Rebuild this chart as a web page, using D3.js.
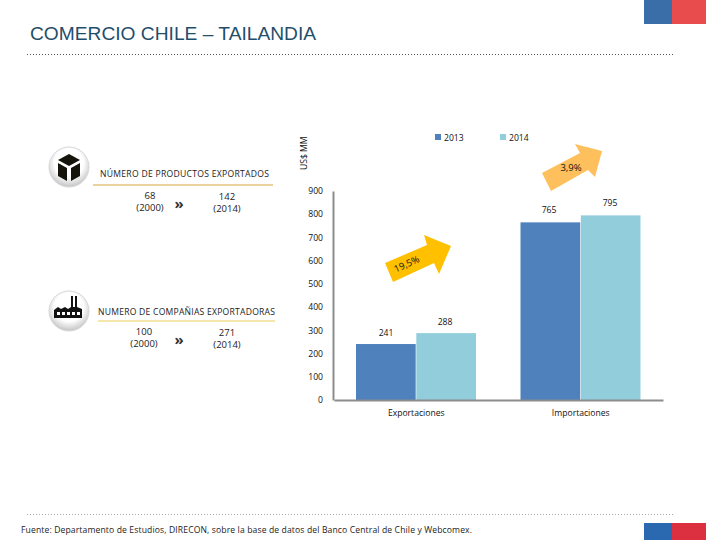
<!DOCTYPE html>
<html><head><meta charset="utf-8">
<script src="https://cdn.jsdelivr.net/npm/d3@7"></script>
<style>html,body{margin:0;padding:0;background:#fff}svg{display:block}text{font-family:"Open Sans","Noto Sans",sans-serif}</style>
</head><body><svg id="c" width="720" height="540"></svg>
<script>
const categories=["Exportaciones","Importaciones"];
const years=["2013","2014"];
const values2013=[241,765];
const values2014=[288,795];
const yTicks=[0,100,200,300,400,500,600,700,800,900];
const colors=["#4f81bd","#92cddc"];
const titleText="COMERCIO CHILE – TAILANDIA";
const sourceText="Fuente: Departamento de Estudios, DIRECON, sobre la base de datos del Banco Central de Chile y Webcomex.";

const svg=d3.select("#c");
const defs=svg.append("defs");
const grad=defs.append("radialGradient").attr("id","disc").attr("cx","50%").attr("cy","40%").attr("r","60%");
grad.append("stop").attr("offset","60%").attr("stop-color","#ffffff");
grad.append("stop").attr("offset","100%").attr("stop-color","#c4c4c4");

// flag blocks
function flag(x,y,w1,w2,h,c1,c2){
  svg.append("rect").attr("x",x).attr("y",y).attr("width",w1).attr("height",h).attr("fill",c1);
  svg.append("rect").attr("x",x+w1).attr("y",y).attr("width",w2).attr("height",h).attr("fill",c2);
}
flag(644,0,28,34,24,"#3a6ea8","#e84c4c");
flag(644,523,28,34,17,"#2a69b0","#dc3040");

// title and dotted rules
svg.append("text").attr("x",30).attr("y",40).attr("font-size",19.2).attr("fill","#1f4e6b")
  .style("font-family","'Liberation Sans',Arial,sans-serif").text(titleText);
[[54,"#555"],[514,"#aaa"]].forEach(([y,c])=>svg.append("line").attr("x1",27).attr("x2",675).attr("y1",y+.5).attr("y2",y+.5)
  .attr("stroke",c).attr("stroke-width",1).attr("stroke-dasharray","1 2"));
svg.append("text").attr("x",21).attr("y",533).attr("font-size",8.6).attr("fill","#222")
  .attr("textLength",451).attr("lengthAdjust","spacing").text(sourceText);

// chart
const x0=d3.scaleBand().domain(categories).range([334,663]).paddingInner(0).paddingOuter(0);
const x1=d3.scaleBand().domain(years).range([22,142]).paddingInner(0.01);
const y=d3.scaleLinear().domain([0,900]).range([400,191]);

const series=years.map((yr,i)=>({yr,color:colors[i],values:i?values2014:values2013}));
series.forEach(s=>{
  svg.append("g").selectAll("rect").data(categories).join("rect")
    .attr("x",c=>x0(c)+x1(s.yr)).attr("width",x1.bandwidth())
    .attr("y",(c,i)=>y(s.values[i])).attr("height",(c,i)=>y(0)-y(s.values[i]))
    .attr("fill",s.color);
});
// axes
const yAxis=d3.axisLeft(y).tickValues(yTicks).tickSize(0).tickPadding(10).tickFormat(d3.format("d"));
const gy=svg.append("g").attr("transform","translate(333,0)").call(yAxis);
gy.select(".domain").attr("stroke","#8c8c8c").attr("stroke-width",2);
gy.selectAll("text").attr("font-size",8.6).attr("fill","#111");
const xAxis=d3.axisBottom(x0).tickSize(0).tickPadding(10);
const gx=svg.append("g").attr("transform","translate(0,400)").call(xAxis);
gx.select(".domain").attr("stroke","#8c8c8c").attr("stroke-width",2);
gx.selectAll("text").attr("font-size",8.6).attr("fill","#111");

// data labels
const dl=[{x:386,i:0,s:0},{x:445,i:0,s:1},{x:549,i:1,s:0},{x:610,i:1,s:1}];
const dy=[8,8,9,9];
dl.forEach((d,k)=>svg.append("text").attr("x",d.x).attr("y",y(series[d.s].values[d.i])-dy[k]).attr("text-anchor","middle")
  .attr("font-size",8.6).attr("fill","#111").text(series[d.s].values[d.i]));

// y title
svg.append("text").attr("transform","translate(307,170) rotate(-90)").attr("font-size",8.6).attr("fill","#111").text("US$ MM");

// legend
const legX=[436,501];
years.forEach((yr,i)=>{
  svg.append("rect").attr("x",legX[i]-1).attr("y",134).attr("width",6).attr("height",6).attr("fill",colors[i]);
  svg.append("text").attr("x",legX[i]+8).attr("y",141).attr("font-size",8.6).attr("fill","#111").text(yr);
});

// growth arrows
const line=d3.line();
svg.append("path").attr("d",line([[542,173],[580,153],[575,144],[602,151],[595,177],[588,170],[551,191]])+"Z").attr("fill","#fdc05c");
svg.append("text").attr("x",571).attr("y",171).attr("text-anchor","middle").attr("font-size",9.5).attr("fill","#111").text("3,9%");
svg.append("path").attr("d",line([[385,263],[427,245],[424,235],[451,246],[439,274],[434,263],[393,282]])+"Z").attr("fill","#ffc000");
svg.append("text").attr("transform","translate(408,267) rotate(-24)").attr("text-anchor","middle").attr("font-size",9.5).attr("fill","#111").text("19,5%");

// side panels
function disc(cx,cy){
  svg.append("circle").attr("cx",cx).attr("cy",cy).attr("r",20).attr("fill","url(#disc)").attr("stroke","#d8d8d8");
}
disc(69,167);
svg.append("path").attr("d",line([[69,154],[80,160],[69,166],[58,160]])+"Z").attr("fill","#14140a");
svg.append("path").attr("d",line([[58,163],[67,168],[67,181],[58,176]])+"Z").attr("fill","#14140a");
svg.append("path").attr("d",line([[80,163],[71,168],[71,181],[80,176]])+"Z").attr("fill","#14140a");
disc(69,311);
svg.append("path").attr("d",line([[54,318],[54,310],[58,307],[61,309],[65,307],[68,309],[71,307],[71,296],[73,296],[73,307],[75,307],[75,296],[77,296],[77,307],[82,309],[82,318]])+"Z").attr("fill","#111");
[57,62,67,72,77].forEach(px=>svg.append("rect").attr("x",px).attr("y",312).attr("width",3).attr("height",3).attr("fill","#fff"));

function panel(title,ty,tx,tlen,ruleY,ruleX1,ruleX2,ruleC,a,b){
  svg.append("text").attr("x",tx).attr("y",ty).attr("font-size",8.6).attr("fill","#222").attr("textLength",tlen).text(title);
  svg.append("line").attr("x1",ruleX1).attr("x2",ruleX2).attr("y1",ruleY).attr("y2",ruleY).attr("stroke",ruleC).attr("stroke-width",1);
  [a,b].forEach(p=>{
    svg.append("text").attr("x",p.x).attr("y",p.y).attr("text-anchor","middle").attr("font-size",9.5).attr("fill","#222").text(p.v);
    svg.append("text").attr("x",p.x).attr("y",p.y+12).attr("text-anchor","middle").attr("font-size",9.5).attr("fill","#222").text(p.yr);
  });
  svg.append("text").attr("x",179).attr("y",a.y+10).attr("text-anchor","middle").attr("font-size",15).attr("font-weight",700).attr("fill","#333").text("»");
}
panel("NÚMERO DE  PRODUCTOS EXPORTADOS",177,100,169,185,93,273,"#d8a63c",{x:150,y:199,v:"68",yr:"(2000)"},{x:227,y:200,v:"142",yr:"(2014)"});
panel("NUMERO DE COMPAÑIAS EXPORTADORAS",315,98,177,321,98,275,"#e8cf5a",{x:144,y:335,v:"100",yr:"(2000)"},{x:227,y:336,v:"271",yr:"(2014)"});
</script></body></html>
